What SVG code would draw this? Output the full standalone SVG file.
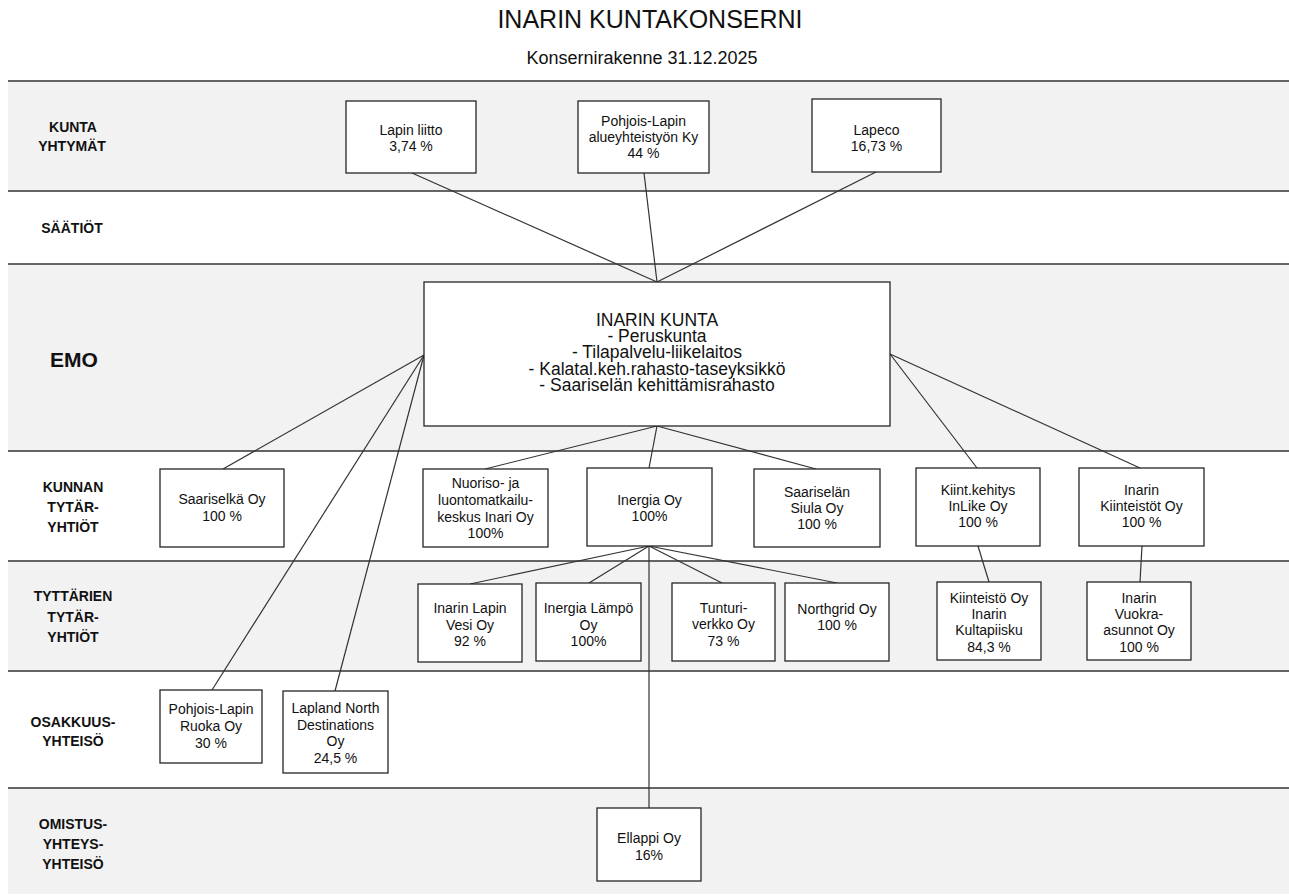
<svg xmlns="http://www.w3.org/2000/svg" width="1289" height="895" viewBox="0 0 1289 895">
<style>
.band{fill:#f2f2f2}
.hl{stroke:#333;stroke-width:1.3}
.box rect{fill:#fff;stroke:#262626;stroke-width:1.3}
.box text,.t{font-family:"Liberation Sans",Arial,sans-serif;font-size:14px;fill:#111;text-anchor:middle}
.box text.big{font-size:17.5px}
.lbl{font-family:"Liberation Sans",Arial,sans-serif;font-size:14px;font-weight:bold;fill:#111;text-anchor:middle}
#connectors line{stroke:#333;stroke-width:1.2}
</style>
<rect width="1289" height="895" fill="#fff"/>
<g id="bands">
<rect class="band" x="8" y="81" width="1281" height="110"/>
<rect class="band" x="8" y="264" width="1281" height="187"/>
<rect class="band" x="8" y="561" width="1281" height="110"/>
<rect class="band" x="8" y="788" width="1281" height="106"/>
<line class="hl" x1="8" y1="81" x2="1289" y2="81"/>
<line class="hl" x1="8" y1="191" x2="1289" y2="191"/>
<line class="hl" x1="8" y1="264" x2="1289" y2="264"/>
<line class="hl" x1="8" y1="451" x2="1289" y2="451"/>
<line class="hl" x1="8" y1="561" x2="1289" y2="561"/>
<line class="hl" x1="8" y1="671" x2="1289" y2="671"/>
<line class="hl" x1="8" y1="788" x2="1289" y2="788"/>
</g>
<g id="titles">
<text x="650" y="28" style="font-family:'Liberation Sans',Arial,sans-serif;font-size:25px;fill:#111;text-anchor:middle">INARIN KUNTAKONSERNI</text>
<text x="642" y="64" style="font-family:'Liberation Sans',Arial,sans-serif;font-size:18px;fill:#111;text-anchor:middle">Konsernirakenne 31.12.2025</text>
</g>
<g id="labels">
<text class="lbl" x="73" y="132">KUNTA</text>
<text class="lbl" x="72" y="151">YHTYMÄT</text>
<text class="lbl" x="72" y="233">SÄÄTIÖT</text>
<text class="lbl" x="74" y="367" style="font-size:21px">EMO</text>
<text class="lbl" x="73" y="492">KUNNAN</text>
<text class="lbl" x="73" y="512">TYTÄR-</text>
<text class="lbl" x="73" y="532">YHTIÖT</text>
<text class="lbl" x="73" y="601">TYTTÄRIEN</text>
<text class="lbl" x="73" y="622">TYTÄR-</text>
<text class="lbl" x="73" y="642">YHTIÖT</text>
<text class="lbl" x="73" y="727">OSAKKUUS-</text>
<text class="lbl" x="73" y="746">YHTEISÖ</text>
<text class="lbl" x="73" y="829">OMISTUS-</text>
<text class="lbl" x="73" y="849">YHTEYS-</text>
<text class="lbl" x="73" y="869">YHTEISÖ</text>
</g>
<g id="connectors">
<line x1="412" y1="173" x2="657" y2="282"/>
<line x1="644" y1="173" x2="657" y2="282"/>
<line x1="876" y1="172" x2="657" y2="282"/>
<line x1="424" y1="355" x2="223" y2="469"/>
<line x1="424" y1="355" x2="212" y2="690"/>
<line x1="424" y1="355" x2="335" y2="691"/>
<line x1="657" y1="426" x2="485" y2="469"/>
<line x1="657" y1="426" x2="649" y2="468"/>
<line x1="657" y1="426" x2="816" y2="469"/>
<line x1="890" y1="354" x2="977" y2="468"/>
<line x1="890" y1="354" x2="1140" y2="468"/>
<line x1="649" y1="546" x2="470" y2="584"/>
<line x1="649" y1="546" x2="589" y2="583"/>
<line x1="649" y1="546" x2="722" y2="583"/>
<line x1="649" y1="546" x2="837" y2="583"/>
<line x1="649" y1="546" x2="649" y2="808"/>
<line x1="978" y1="546" x2="989" y2="582"/>
<line x1="1142" y1="546" x2="1140" y2="582"/>
</g>
<g id="lapin-liitto" class="box"><rect x="346" y="101" width="130" height="72"/><text x="411" y="135">Lapin liitto</text><text x="411" y="151">3,74 %</text></g>
<g id="pohjois-lapin-ky" class="box"><rect x="578" y="101" width="131" height="72"/><text x="643.5" y="126">Pohjois-Lapin</text><text x="643.5" y="142">alueyhteistyön Ky</text><text x="643.5" y="158">44 %</text></g>
<g id="lapeco" class="box"><rect x="812" y="99" width="129" height="73"/><text x="876.5" y="135">Lapeco</text><text x="876.5" y="151">16,73 %</text></g>
<g id="inarin-kunta" class="box"><rect x="424" y="282" width="466" height="144"/>
<text class="big" x="657" y="326">INARIN KUNTA</text>
<text class="big" x="657" y="342">- Peruskunta</text>
<text class="big" x="657" y="358">- Tilapalvelu-liikelaitos</text>
<text class="big" x="657" y="375">- Kalatal.keh.rahasto-taseyksikkö</text>
<text class="big" x="657" y="391">- Saariselän kehittämisrahasto</text></g>
<g id="saariselka" class="box"><rect x="160" y="469" width="124" height="78"/><text x="222" y="504">Saariselkä Oy</text><text x="222" y="521">100 %</text></g>
<g id="nuoriso" class="box"><rect x="423" y="469" width="125" height="78"/><text x="485.5" y="488">Nuoriso- ja</text><text x="485.5" y="505">luontomatkailu-</text><text x="485.5" y="522">keskus Inari Oy</text><text x="485.5" y="538">100%</text></g>
<g id="inergia" class="box"><rect x="587" y="468" width="125" height="78"/><text x="649.5" y="505">Inergia Oy</text><text x="649.5" y="521">100%</text></g>
<g id="siula" class="box"><rect x="754" y="469" width="126" height="78"/><text x="817" y="497">Saariselän</text><text x="817" y="513">Siula Oy</text><text x="817" y="529">100 %</text></g>
<g id="inlike" class="box"><rect x="916" y="468" width="124" height="78"/><text x="978" y="495">Kiint.kehitys</text><text x="978" y="511">InLike Oy</text><text x="978" y="527">100 %</text></g>
<g id="kiinteistot" class="box"><rect x="1079" y="468" width="125" height="78"/><text x="1141.5" y="495">Inarin</text><text x="1141.5" y="511">Kiinteistöt Oy</text><text x="1141.5" y="527">100 %</text></g>
<g id="vesi" class="box"><rect x="418" y="584" width="104" height="78"/><text x="470" y="613">Inarin Lapin</text><text x="470" y="630">Vesi Oy</text><text x="470" y="646">92 %</text></g>
<g id="lampo" class="box"><rect x="536" y="583" width="105" height="78"/><text x="588.5" y="613">Inergia Lämpö</text><text x="588.5" y="630">Oy</text><text x="588.5" y="646">100%</text></g>
<g id="tunturiverkko" class="box"><rect x="672" y="583" width="103" height="78"/><text x="723.5" y="613">Tunturi-</text><text x="723.5" y="629">verkko Oy</text><text x="723.5" y="646">73 %</text></g>
<g id="northgrid" class="box"><rect x="785" y="583" width="104" height="78"/><text x="837" y="614">Northgrid Oy</text><text x="837" y="630">100 %</text></g>
<g id="kultapiisku" class="box"><rect x="937" y="582" width="104" height="78"/><text x="989" y="603">Kiinteistö Oy</text><text x="989" y="619">Inarin</text><text x="989" y="635">Kultapiisku</text><text x="989" y="652">84,3 %</text></g>
<g id="vuokra" class="box"><rect x="1087" y="582" width="104" height="78"/><text x="1139" y="603">Inarin</text><text x="1139" y="619">Vuokra-</text><text x="1139" y="635">asunnot Oy</text><text x="1139" y="652">100 %</text></g>
<g id="ruoka" class="box"><rect x="160" y="690" width="102" height="73"/><text x="211" y="714">Pohjois-Lapin</text><text x="211" y="731">Ruoka Oy</text><text x="211" y="748">30 %</text></g>
<g id="lapland-north" class="box"><rect x="283" y="691" width="105" height="82"/><text x="335.5" y="713">Lapland North</text><text x="335.5" y="730">Destinations</text><text x="335.5" y="746">Oy</text><text x="335.5" y="763">24,5 %</text></g>
<g id="ellappi" class="box"><rect x="597" y="808" width="104" height="73"/><text x="649" y="843">Ellappi Oy</text><text x="649" y="860">16%</text></g>
</svg>
